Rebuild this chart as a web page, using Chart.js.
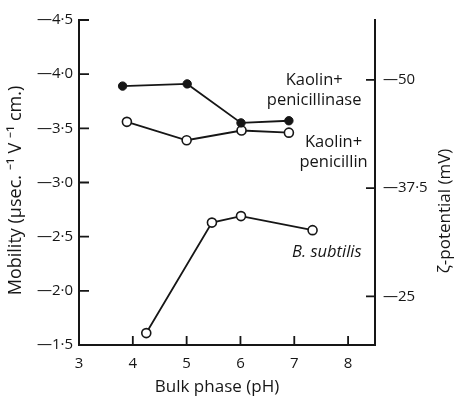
<!DOCTYPE html>
<html>
<head>
<meta charset="utf-8">
<script src="https://cdn.jsdelivr.net/npm/chart.js@4.4.1/dist/chart.umd.min.js"></script>
<style>
  html, body { margin: 0; padding: 0; background: #fff; }
  #wrap { width: 454px; height: 398px; }
</style>
</head>
<body>
<div id="wrap"><canvas id="chart" width="454" height="398"></canvas></div>
<script>
// Kaolin + penicillinase (filled points)
const penicillinasePH = [3.81, 5.01, 6.01, 6.90];
const penicillinaseMobility = [-3.89, -3.91, -3.55, -3.57];
// Kaolin + penicillin (open points)
const penicillinPH = [3.89, 5.00, 6.02, 6.90];
const penicillinMobility = [-3.56, -3.39, -3.48, -3.46];
// B. subtilis (open points)
const subtilisPH = [4.25, 5.47, 6.01, 7.34];
const subtilisMobility = [-1.61, -2.63, -2.69, -2.56];

const pHTicks = [3, 4, 5, 6, 7, 8];
const mobilityTicks = [-4.5, -4.0, -3.5, -3.0, -2.5, -2.0, -1.5];
const zetaTicks = [-50, -37.5, -25];

const ink = '#161616';
const font = '"Open Sans"';

// curve labels, placed in data units (pH, mobility)
const curveLabels = [
  { lines: ['Kaolin+', 'penicillinase'], pH: 7.37, mobility: -3.946, align: 'center', italic: false },
  { lines: ['Kaolin+', 'penicillin'], pH: 7.73, mobility: -3.373, align: 'center', italic: false },
  { lines: ['B. subtilis'], pH: 6.96, mobility: -2.358, align: 'left', italic: true }
];

const toPoints = (xs, ys) => xs.map((v, i) => ({ x: v, y: ys[i] }));

const fmt = v => {
  const a = Math.abs(v);
  const s = Number.isInteger(a) && a >= 10 ? String(a) : a.toFixed(1).replace('.', '\u00b7');
  return (v < 0 ? '\u2014' : '') + s;
};

const axisDecor = {
  id: 'axisDecor',
  afterDraw(chart) {
    const { ctx, chartArea: area, scales } = chart;
    const { x, y, y2 } = scales;
    ctx.save();
    ctx.strokeStyle = ink;
    ctx.lineWidth = 1.8;
    ctx.beginPath();
    // inward tick marks
    y.ticks.forEach(t => {
      const py = y.getPixelForValue(t.value);
      ctx.moveTo(area.left, py);
      ctx.lineTo(area.left + 10, py);
    });
    x.ticks.forEach(t => {
      if (t.value === pHTicks[0]) return;
      const px = x.getPixelForValue(t.value);
      ctx.moveTo(px, area.bottom);
      ctx.lineTo(px, area.bottom - 9);
    });
    y2.ticks.forEach(t => {
      const py = y2.getPixelForValue(t.value);
      ctx.moveTo(area.right, py);
      ctx.lineTo(area.right - 9, py);
    });
    ctx.stroke();

    ctx.fillStyle = ink;
    ctx.textBaseline = 'middle';

    // curve labels
    curveLabels.forEach(lab => {
      ctx.font = (lab.italic ? 'italic ' : '') + '16.5px ' + font;
      ctx.textAlign = lab.align;
      const px = x.getPixelForValue(lab.pH);
      const py = y.getPixelForValue(lab.mobility);
      lab.lines.forEach((line, i) => ctx.fillText(line, px, py + i * 20));
    });

    // axis titles
    ctx.font = '17px ' + font;
    ctx.textAlign = 'center';
    ctx.fillText('Bulk phase (pH)', (area.left + area.right) / 2 - 10, 387);

    ctx.save();
    ctx.translate(445, 211);
    ctx.rotate(-Math.PI / 2);
    ctx.fillText('\u03b6-potential (mV)', 0, 0);
    ctx.restore();

    ctx.font = '18px ' + font;
    ctx.save();
    ctx.translate(16, (area.top + area.bottom) / 2 + 8);
    ctx.rotate(-Math.PI / 2);
    ctx.fillText('Mobility (\u00b5sec. \u207b\u00b9 V \u207b\u00b9 cm.)', 0, 0);
    ctx.restore();

    ctx.restore();
  }
};

const tickFont = { family: font, size: 15 };

new Chart(document.getElementById('chart'), {
  type: 'line',
  data: {
    datasets: [
      {
        label: 'Kaolin + penicillinase',
        data: toPoints(penicillinasePH, penicillinaseMobility),
        borderColor: ink,
        borderWidth: 1.8,
        pointRadius: 4.2,
        pointBackgroundColor: ink,
        pointBorderColor: ink,
        pointBorderWidth: 1,
        yAxisID: 'y'
      },
      {
        label: 'Kaolin + penicillin',
        data: toPoints(penicillinPH, penicillinMobility),
        borderColor: ink,
        borderWidth: 1.8,
        pointRadius: 4.5,
        pointBackgroundColor: '#fff',
        pointBorderColor: ink,
        pointBorderWidth: 1.6,
        yAxisID: 'y'
      },
      {
        label: 'B. subtilis',
        data: toPoints(subtilisPH, subtilisMobility),
        borderColor: ink,
        borderWidth: 1.8,
        pointRadius: 4.5,
        pointBackgroundColor: '#fff',
        pointBorderColor: ink,
        pointBorderWidth: 1.6,
        yAxisID: 'y'
      }
    ]
  },
  options: {
    responsive: false,
    animation: false,
    layout: { padding: { top: 20, left: 0, right: 0, bottom: 0 } },
    plugins: {
      legend: { display: false },
      tooltip: { enabled: false }
    },
    scales: {
      x: {
        type: 'linear',
        min: 3,
        max: 8.5,
        afterBuildTicks: s => { s.ticks = pHTicks.map(v => ({ value: v })); },
        afterFit: s => { s.height = 53; },
        grid: { display: false, drawTicks: false },
        border: { display: true, color: ink, width: 2 },
        ticks: { color: ink, font: tickFont, padding: 10, maxRotation: 0, callback: v => String(v) }
      },
      y: {
        type: 'linear',
        position: 'left',
        reverse: true,
        min: -4.5,
        max: -1.5,
        afterBuildTicks: s => { s.ticks = mobilityTicks.map(v => ({ value: v })); },
        afterFit: s => { s.width = 79; },
        grid: { display: false, drawTicks: false },
        border: { display: true, color: ink, width: 2 },
        ticks: { color: ink, font: tickFont, padding: 6, callback: fmt }
      },
      y2: {
        type: 'linear',
        position: 'right',
        reverse: true,
        min: -56.9,
        max: -19.4,
        afterBuildTicks: s => { s.ticks = zetaTicks.map(v => ({ value: v })); },
        afterFit: s => { s.width = 79; },
        grid: { display: false, drawTicks: false },
        border: { display: true, color: ink, width: 2 },
        ticks: { color: ink, font: tickFont, padding: 8, callback: fmt }
      }
    }
  },
  plugins: [axisDecor]
});
</script>
</body>
</html>
